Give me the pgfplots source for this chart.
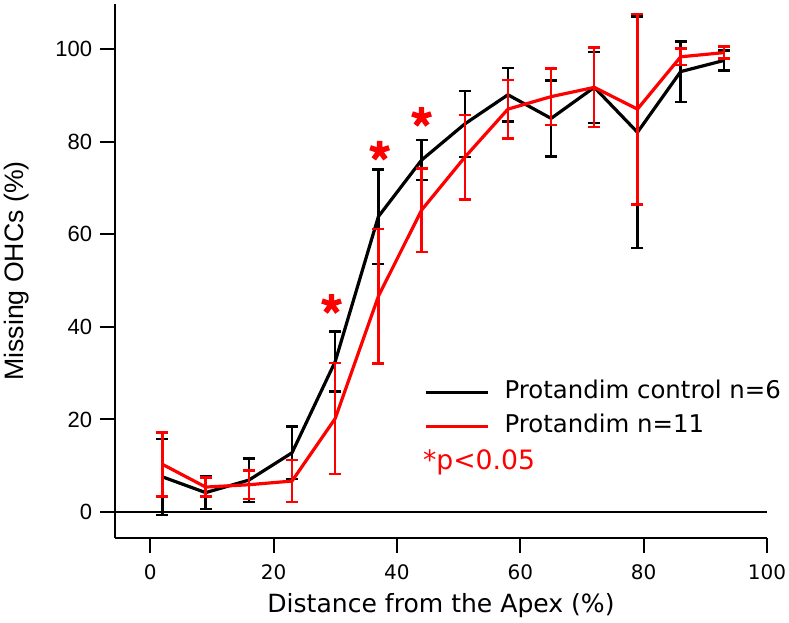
\documentclass[border=0pt]{standalone}
\usepackage{pgfplots}
\pgfplotsset{compat=1.18}
\usepackage{fontspec}
\setmainfont{DejaVu Sans}
\newfontfamily\arial{Liberation Sans}

% control group: x, mean, sem
\pgfplotstableread{
x    y     e
2    7.6   8.2
9    4.2   3.6
16   6.9   4.7
23   12.8  5.7
30   32.5  6.5
37   63.8  10.2
44   76.0  4.3
51   83.8  7.1
58   90.1  5.8
65   85.0  8.2
72   91.7  7.7
79   82.0  25.0
86   95.1  6.5
93   97.5  2.2
}\control
% protandim group
\pgfplotstableread{
x    y     e
2    10.3  6.9
9    5.4   2.05
16   5.9   3.1
23   6.7   4.5
30   20.2  12.0
37   46.6  14.5
44   65.2  9.0
51   76.6  9.1
58   87.0  6.3
65   89.7  6.1
72   91.7  8.6
79   87.0  20.6
86   98.3  1.8
93   99.2  1.3
}\protandim

\begin{document}
\begin{tikzpicture}
\begin{axis}[
    name=ax,
    scale only axis,
    width=489pt, height=400.5pt,
    xmin=-5.7, xmax=100,
    ymin=-5.6, ymax=109.7,
    axis x line*=bottom,
    axis y line*=left,
    axis line style={-, line width=1.5pt},
    tick align=outside,
    major tick length=11pt,
    tick style={line width=1.5pt, black},
    xtick={0,20,...,100},
    ytick={0,20,...,100},
    /pgf/number format/assume math mode=true,
    xticklabel style={font=\fontsize{15}{18}\selectfont, inner sep=0pt},
    yticklabel style={font=\arial\fontsize{16.5}{19}\selectfont, inner sep=0pt},
    xticklabel shift=9pt,
    yticklabel shift=6pt,
    xlabel={Distance from the Apex (\%)},
    xlabel style={font=\fontsize{18.8}{22}\selectfont, at={(axis description cs:0.5,0)}, anchor=base, yshift=-55.5pt},
    ylabel={Missing OHCs (\%)},
    ylabel style={font=\arial\fontsize{20}{24}\selectfont, at={(axis description cs:0,0.5)}, anchor=center, yshift=73.5pt},
    legend style={font=\fontsize{18.3}{22}\selectfont, draw=none, fill=none,
        at={(axis cs:44.4,28.3)}, anchor=north west, inner sep=0pt, row sep=8.5pt,
        nodes={inner sep=0pt, text height=13pt, text depth=4pt},
        /tikz/every odd column/.append style={column sep=11pt}},
    legend cell align=left,
    legend image code/.code={\draw[#1, line width=2.25pt] (0pt,0pt) -- (47pt,0pt);},
]
\addplot[black, line width=2pt, forget plot] coordinates {(-5.7,0) (100,0)};
\addplot[black, line width=2.4pt,
    error bars/.cd, y dir=both, y explicit, error mark=-,
    error bar style={/tikz/line width=1.8pt, black},
    error mark options={rotate=90, line width=1.8pt, mark size=4.5pt, black}]
    table[x=x, y=y, y error=e] {\control};
\addlegendentry{Protandim control n=6}
\addplot[red, line width=2.4pt,
    error bars/.cd, y dir=both, y explicit, error mark=-,
    error bar style={/tikz/line width=1.8pt, red},
    error mark options={rotate=90, line width=1.8pt, mark size=4.5pt, red}]
    table[x=x, y=y, y error=e] {\protandim};
\addlegendentry{Protandim n=11}
\addplot[red, only marks, mark=star, mark size=7.5pt, line width=4pt, forget plot]
    coordinates {(29.4,44.9) (37.2,78.0) (44.0,85.3)};
\node[anchor=base west, inner sep=0pt, red, font=\fontsize{20}{24}\selectfont]
    at (axis cs:44.2,9.1) {*p<0.05};
\end{axis}
\pgfresetboundingbox
\path[use as bounding box] ([shift={(-86.25pt,-63pt)}]ax.south west) rectangle ([shift={(16.5pt,3pt)}]ax.north east);
\end{tikzpicture}
\end{document}
